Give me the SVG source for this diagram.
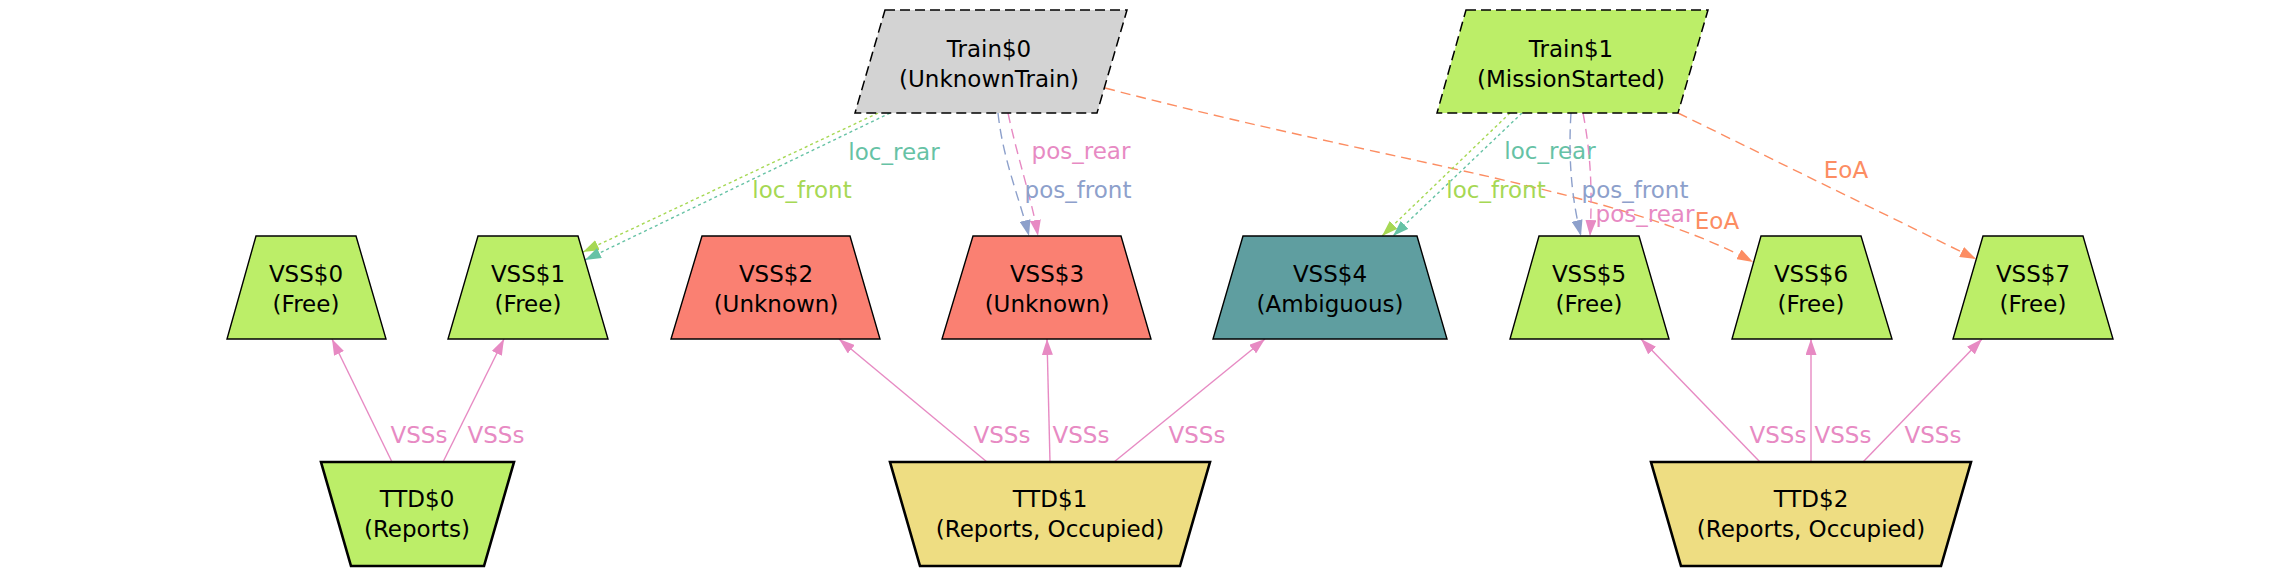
<svg xmlns="http://www.w3.org/2000/svg" width="2278" height="575" viewBox="0 0 2278 575">
<style>
.n{stroke:#000;stroke-width:1.4}
.train{stroke-dasharray:10,5;stroke-width:1.5}
.ttd{stroke-width:2.6}
.free{fill:#bcee68}
.unk{fill:#fa8072}
.amb{fill:#5f9ea0}
.yel{fill:#eedd82}
.gray{fill:#d3d3d3}
text{font-family:"DejaVu Sans","Liberation Sans",sans-serif;font-size:23px;text-anchor:middle}
.nt{fill:#000}
.e{fill:none;stroke-width:1.4}
.dot{stroke-dasharray:3,3}
.dash{stroke-dasharray:10,6}
.cp{stroke:#e78ac3}.tp{fill:#e78ac3}
.cg{stroke:#a6d854}.tg{fill:#a6d854}
.ct{stroke:#66c2a5}.tt{fill:#66c2a5}
.cb{stroke:#8da0cb}.tb{fill:#8da0cb}
.co{stroke:#fc8d62}.to{fill:#fc8d62}
</style>
<defs>
<marker id="mp" viewBox="0 0 16 11" refX="16" refY="5.5" markerWidth="16" markerHeight="11" orient="auto" markerUnits="userSpaceOnUse"><path d="M0,0L16,5.5L0,11z" fill="#e78ac3" stroke="none"/></marker>
<marker id="mg" viewBox="0 0 16 11" refX="16" refY="5.5" markerWidth="16" markerHeight="11" orient="auto" markerUnits="userSpaceOnUse"><path d="M0,0L16,5.5L0,11z" fill="#a6d854" stroke="none"/></marker>
<marker id="mt" viewBox="0 0 16 11" refX="16" refY="5.5" markerWidth="16" markerHeight="11" orient="auto" markerUnits="userSpaceOnUse"><path d="M0,0L16,5.5L0,11z" fill="#66c2a5" stroke="none"/></marker>
<marker id="mb" viewBox="0 0 16 11" refX="16" refY="5.5" markerWidth="16" markerHeight="11" orient="auto" markerUnits="userSpaceOnUse"><path d="M0,0L16,5.5L0,11z" fill="#8da0cb" stroke="none"/></marker>
<marker id="mo" viewBox="0 0 16 11" refX="16" refY="5.5" markerWidth="16" markerHeight="11" orient="auto" markerUnits="userSpaceOnUse"><path d="M0,0L16,5.5L0,11z" fill="#fc8d62" stroke="none"/></marker>
</defs>

<g id="connectors">
<path class="e cp" marker-end="url(#mp)" d="M392,462L332,339"/>
<path class="e cp" marker-end="url(#mp)" d="M443,462L504,339"/>
<path class="e cp" marker-end="url(#mp)" d="M987,462L839,339"/>
<path class="e cp" marker-end="url(#mp)" d="M1050,462L1047,339"/>
<path class="e cp" marker-end="url(#mp)" d="M1114,462L1265,339"/>
<path class="e cp" marker-end="url(#mp)" d="M1760,462L1641,339"/>
<path class="e cp" marker-end="url(#mp)" d="M1811,462L1811,339"/>
<path class="e cp" marker-end="url(#mp)" d="M1863,462L1982,339"/>
<text class="tp" x="419" y="443">VSSs</text>
<text class="tp" x="496" y="443">VSSs</text>
<text class="tp" x="1002" y="443">VSSs</text>
<text class="tp" x="1081" y="443">VSSs</text>
<text class="tp" x="1197" y="443">VSSs</text>
<text class="tp" x="1778" y="443">VSSs</text>
<text class="tp" x="1843" y="443">VSSs</text>
<text class="tp" x="1933" y="443">VSSs</text>

<path class="e cg dot" marker-end="url(#mg)" d="M878,113L583,252"/>
<path class="e ct dot" marker-end="url(#mt)" d="M890,113L585,260"/>
<text class="tt" x="894" y="160">loc_rear</text>
<text class="tg" x="802" y="198">loc_front</text>

<path class="e cb dash" marker-end="url(#mb)" d="M998,113C1003,160 1020,200 1029,236"/>
<path class="e cp dash" marker-end="url(#mp)" d="M1008,113C1018,160 1032,200 1038,236"/>
<text class="tp" x="1081" y="159">pos_rear</text>
<text class="tb" x="1078" y="198">pos_front</text>

<path class="e co dash" marker-end="url(#mo)" d="M1105,88C1400,165 1620,190 1753,262"/>
<text class="to" x="1717" y="229">EoA</text>

<path class="e cg dot" marker-end="url(#mg)" d="M1510,113L1382,236"/>
<path class="e ct dot" marker-end="url(#mt)" d="M1522,113L1393,236"/>
<text class="tt" x="1550" y="159">loc_rear</text>
<text class="tg" x="1496" y="198">loc_front</text>

<path class="e cb dash" marker-end="url(#mb)" d="M1571,113C1568,160 1572,200 1581,236"/>
<path class="e cp dash" marker-end="url(#mp)" d="M1583,113C1592,160 1592,200 1590,236"/>
<text class="tb" x="1635" y="198">pos_front</text>
<text class="tp" x="1645" y="222">pos_rear</text>

<path class="e co dash" marker-end="url(#mo)" d="M1678,113L1976,259"/>
<text class="to" x="1846" y="178">EoA</text>
</g>

<g id="Train0">
<polygon class="n train gray" points="885,10 1127,10 1097,113 855,113"/>
<text class="nt" x="989" y="57">Train$0</text>
<text class="nt" x="989" y="87">(UnknownTrain)</text>
</g>
<g id="Train1">
<polygon class="n train free" points="1466,10 1708,10 1678,113 1437,113"/>
<text class="nt" x="1571" y="57">Train$1</text>
<text class="nt" x="1571" y="87">(MissionStarted)</text>
</g>

<g id="VSS0">
<polygon class="n free" points="256,236 356,236 386,339 227,339"/>
<text class="nt" x="306" y="282">VSS$0</text>
<text class="nt" x="306" y="312">(Free)</text>
</g>
<g id="VSS1">
<polygon class="n free" points="478,236 578,236 608,339 448,339"/>
<text class="nt" x="528" y="282">VSS$1</text>
<text class="nt" x="528" y="312">(Free)</text>
</g>
<g id="VSS2">
<polygon class="n unk" points="702,236 850,236 880,339 671,339"/>
<text class="nt" x="776" y="282">VSS$2</text>
<text class="nt" x="776" y="312">(Unknown)</text>
</g>
<g id="VSS3">
<polygon class="n unk" points="973,236 1121,236 1151,339 942,339"/>
<text class="nt" x="1047" y="282">VSS$3</text>
<text class="nt" x="1047" y="312">(Unknown)</text>
</g>
<g id="VSS4">
<polygon class="n amb" points="1243,236 1417,236 1447,339 1213,339"/>
<text class="nt" x="1330" y="282">VSS$4</text>
<text class="nt" x="1330" y="312">(Ambiguous)</text>
</g>
<g id="VSS5">
<polygon class="n free" points="1539,236 1639,236 1669,339 1510,339"/>
<text class="nt" x="1589" y="282">VSS$5</text>
<text class="nt" x="1589" y="312">(Free)</text>
</g>
<g id="VSS6">
<polygon class="n free" points="1761,236 1861,236 1892,339 1732,339"/>
<text class="nt" x="1811" y="282">VSS$6</text>
<text class="nt" x="1811" y="312">(Free)</text>
</g>
<g id="VSS7">
<polygon class="n free" points="1983,236 2083,236 2113,339 1953,339"/>
<text class="nt" x="2033" y="282">VSS$7</text>
<text class="nt" x="2033" y="312">(Free)</text>
</g>

<g id="TTD0">
<polygon class="n ttd free" points="321,462 514,462 484,566 351,566"/>
<text class="nt" x="417" y="507">TTD$0</text>
<text class="nt" x="417" y="537">(Reports)</text>
</g>
<g id="TTD1">
<polygon class="n ttd yel" points="890,462 1210,462 1180,566 920,566"/>
<text class="nt" x="1050" y="507">TTD$1</text>
<text class="nt" x="1050" y="537">(Reports, Occupied)</text>
</g>
<g id="TTD2">
<polygon class="n ttd yel" points="1651,462 1971,462 1941,566 1681,566"/>
<text class="nt" x="1811" y="507">TTD$2</text>
<text class="nt" x="1811" y="537">(Reports, Occupied)</text>
</g>
</svg>
